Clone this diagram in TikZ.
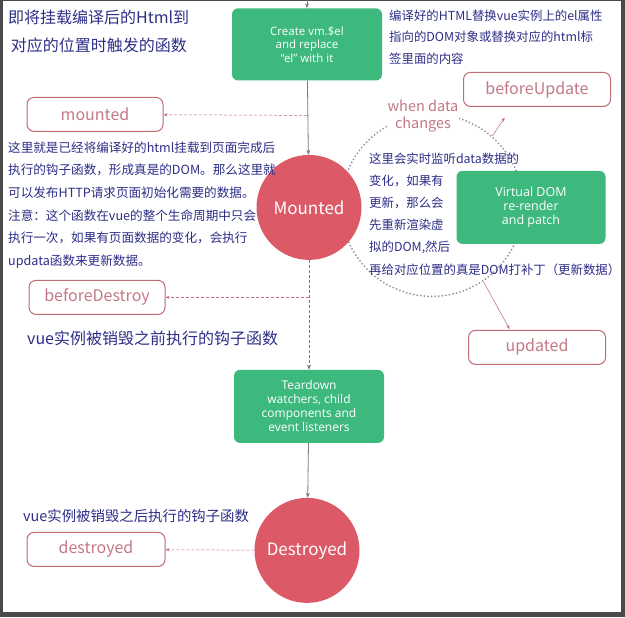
\documentclass[tikz,border=0pt]{standalone}
\usepackage{fontspec}
\setmainfont{Noto Sans CJK SC}
\newfontfamily\boxsans{Open Sans}
\usepackage{xcolor}
\usepackage{tikz}
\usetikzlibrary{arrows.meta,positioning}

\definecolor{vuegreen}{HTML}{3DB97E}
\definecolor{stagered}{HTML}{DC5A68}
\definecolor{hookred}{HTML}{C06A76}
\definecolor{hooktext}{HTML}{C47886}
\definecolor{notenavy}{HTML}{2E2E88}
\definecolor{linegray}{HTML}{7A7A7A}
\definecolor{framegray}{HTML}{4A4A4A}

\begin{document}
\begin{tikzpicture}[
  x=1pt, y=-1pt,
  hookbox/.style={
    draw=hookred,
    line width=1pt,
    rounded corners=7pt,
    minimum width=136pt,
    minimum height=34pt,
    text=hooktext,
    font=\fontsize{16}{18}\selectfont
  },
  greenbox/.style={
    fill=vuegreen,
    rounded corners=6pt,
    align=center,
    text=white,
    minimum width=150pt,
    minimum height=72pt,
    font=\boxsans\fontsize{11.5}{13.5}\selectfont
  },
  stage/.style={
    circle,
    fill=stagered,
    text=white,
    minimum size=105pt,
    font=\fontsize{17}{20}\selectfont
  },
  note/.style={text=notenavy, align=left, anchor=west, inner sep=0pt},
  flow/.style={-{Stealth[length=5pt,width=4pt]}, draw=linegray, line width=0.8pt},
  hook/.style={-{Stealth[length=4pt,width=3pt]}, draw=hookred, densely dashed, line width=0.5pt}
]
% frame
\fill[framegray] (0,0) rectangle (625,617);
\fill[white] (3,1) rectangle (621,612);

% update cycle
\node[circle, draw=gray!85, line width=2pt, line cap=round,
      dash pattern=on 0pt off 3.6pt, minimum size=182pt] (cycle) at (432,205) {};
\node[fill=white, text=hooktext, align=center, inner sep=1pt,
      font=\fontsize{14.5}{17}\selectfont] (change) at (423,116) {when data\\changes};

% main flow
\node[greenbox] (create) at (307,44) {Create vm.\$el\\and replace\\“el” with it};
\node[stage] (mounted) at (309,207) {Mounted};
\node[greenbox, minimum height=73pt, font=\boxsans\fontsize{12}{14}\selectfont] (teardown) at (309,406)
  {Teardown\\watchers, child\\components and\\event listeners};
\node[stage] (destroyed) at (307,550) {Destroyed};
\node[greenbox, minimum width=149pt, minimum height=73pt, font=\boxsans\fontsize{12.5}{14}\selectfont] (vdom) at (531,207)
  {Virtual DOM\\re-render\\and patch};

% hooks
\node[hookbox] (hmounted) at (95,114) {mounted};
\node[hookbox] (hbdestroy) at (97,297) {beforeDestroy};
\node[hookbox, minimum width=138pt] (hdestroyed) at (96,549) {destroyed};
\node[hookbox, minimum width=147pt] (hbupdate) at (537,89) {beforeUpdate};
\node[hookbox, minimum width=137pt] (hupdated) at (537,347) {updated};

% notes
\node[note, font=\fontsize{16}{28}\selectfont] (nhead) at (8,31)
  {即将挂载编译后的Html到\\\,对应的位置时触发的函数};
\node[note, font=\fontsize{12.4}{21.5}\selectfont] (nreplace) at (389,36.5)
  {编译好的HTML替换vue实例上的el属性\\指向的DOM对象或替换对应的html标\\签里面的内容};
\node[note, font=\fontsize{12.6}{22.6}\selectfont] (nmounted) at (8,204.5)
  {这里就是已经将编译好的html挂载到页面完成后\\执行的钩子函数，形成真是的DOM。那么这里就\\可以发布HTTP请求页面初始化需要的数据。\\注意：这个函数在vue的整个生命周期中只会\\执行一次，如果有页面数据的变化，会执行\\updata函数来更新数据。};
\node[note, font=\fontsize{12.4}{22.2}\selectfont] (nupdate) at (369,213.5)
  {这里会实时监听data数据的\\变化，如果有\\更新，那么会\\先重新渲染虚\\拟的DOM,然后\\再给对应位置的真是DOM打补丁（更新数据）};
\node[note, font=\fontsize{16}{18}\selectfont] (nbefore) at (27,338) {vue实例被销毁之前执行的钩子函数};
\node[note, font=\fontsize{14.4}{16}\selectfont] (nafter) at (23,516) {vue实例被销毁之后执行的钩子函数};

% connectors
\coordinate (entry) at (307,0);
\coordinate (tapmounted) at (307,115);
\coordinate (tapbdestroy) at (309,297);
\draw[flow] (entry) -- (create);
\draw[flow] (create) -- (mounted);
\draw[flow, densely dashed] (mounted) -- (teardown);
\draw[flow] (teardown) -- (destroyed);
\draw[hook] (tapmounted) -- (hmounted);
\draw[hook] (tapbdestroy) -- (hbdestroy);
\draw[hook] (destroyed) -- (hdestroyed);
\draw[hook, solid, shorten >=13pt] (cycle.49) -- ([xshift=-25pt]hbupdate.south);
\draw[hook, solid, shorten >=1pt] (cycle.-56) -- ([xshift=-27pt]hupdated.north);
\end{tikzpicture}
\end{document}
